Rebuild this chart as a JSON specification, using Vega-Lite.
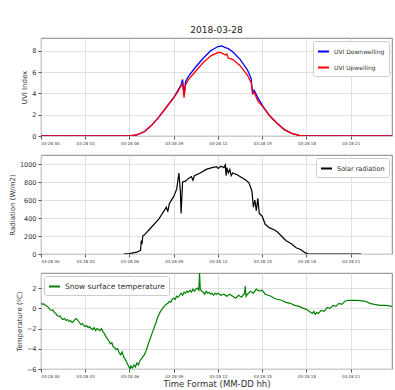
{
  "$schema": "https://vega.github.io/schema/vega-lite/v6.json",
  "padding": {"left": 8, "top": 25, "right": 0, "bottom": 0},
  "spacing": 8,
  "resolve": {"scale": {"color": "independent", "x": "independent", "y": "independent"}, "legend": {"color": "independent"}},
  "config": {
    "font": "DejaVu Sans",
    "view": {"stroke": "#666", "strokeWidth": 0.8},
    "axis": {"gridColor": "#d9d9d9", "gridWidth": 0.8, "domain": false, "tickColor": "#555", "tickSize": 3, "labelFontSize": 6.5, "labelColor": "#333", "titleFontSize": 7, "titleFontWeight": "normal", "titleColor": "#333", "labelPadding": 2, "titlePadding": 4},
    "axisX": {"labelFontSize": 4, "labelPadding": 2, "titleFontSize": 8.5},
    "legend": {"title": null, "symbolType": "stroke", "symbolStrokeWidth": 2, "symbolSize": 120, "labelFontSize": 6.5, "labelColor": "#333", "strokeColor": "#ccc", "fillColor": "white", "padding": 4, "offset": 3, "rowPadding": 5, "cornerRadius": 2}
  },
  "datasets": {
    "uvi": [
      {"h": 0, "v": 0, "s": "UVI Downwelling"}, {"h": 6.0, "v": 0, "s": "UVI Downwelling"}, {"h": 6.5, "v": 0.1, "s": "UVI Downwelling"}, {"h": 7.0, "v": 0.4, "s": "UVI Downwelling"}, {"h": 7.5, "v": 1.0, "s": "UVI Downwelling"}, {"h": 8.0, "v": 1.8, "s": "UVI Downwelling"}, {"h": 8.5, "v": 2.7, "s": "UVI Downwelling"}, {"h": 9.0, "v": 3.6, "s": "UVI Downwelling"}, {"h": 9.25, "v": 4.2, "s": "UVI Downwelling"}, {"h": 9.5, "v": 4.8, "s": "UVI Downwelling"}, {"h": 9.6, "v": 5.3, "s": "UVI Downwelling"}, {"h": 9.7, "v": 3.8, "s": "UVI Downwelling"}, {"h": 9.8, "v": 5.1, "s": "UVI Downwelling"}, {"h": 10.0, "v": 5.6, "s": "UVI Downwelling"}, {"h": 10.5, "v": 6.5, "s": "UVI Downwelling"}, {"h": 11.0, "v": 7.3, "s": "UVI Downwelling"}, {"h": 11.5, "v": 8.0, "s": "UVI Downwelling"}, {"h": 12.0, "v": 8.4, "s": "UVI Downwelling"}, {"h": 12.25, "v": 8.45, "s": "UVI Downwelling"}, {"h": 12.5, "v": 8.3, "s": "UVI Downwelling"}, {"h": 12.7, "v": 8.2, "s": "UVI Downwelling"}, {"h": 13.0, "v": 7.9, "s": "UVI Downwelling"}, {"h": 13.5, "v": 7.2, "s": "UVI Downwelling"}, {"h": 14.0, "v": 6.2, "s": "UVI Downwelling"}, {"h": 14.25, "v": 5.4, "s": "UVI Downwelling"}, {"h": 14.35, "v": 3.9, "s": "UVI Downwelling"}, {"h": 14.45, "v": 4.3, "s": "UVI Downwelling"}, {"h": 14.7, "v": 3.6, "s": "UVI Downwelling"}, {"h": 15.0, "v": 2.9, "s": "UVI Downwelling"}, {"h": 15.5, "v": 1.9, "s": "UVI Downwelling"}, {"h": 16.0, "v": 1.2, "s": "UVI Downwelling"}, {"h": 16.5, "v": 0.6, "s": "UVI Downwelling"}, {"h": 17.0, "v": 0.25, "s": "UVI Downwelling"}, {"h": 17.5, "v": 0.05, "s": "UVI Downwelling"}, {"h": 18.0, "v": 0, "s": "UVI Downwelling"}, {"h": 23.8, "v": 0, "s": "UVI Downwelling"},
      {"h": 0, "v": 0, "s": "UVI Upwelling"}, {"h": 6.0, "v": 0, "s": "UVI Upwelling"}, {"h": 6.5, "v": 0.1, "s": "UVI Upwelling"}, {"h": 7.0, "v": 0.4, "s": "UVI Upwelling"}, {"h": 7.5, "v": 1.0, "s": "UVI Upwelling"}, {"h": 8.0, "v": 1.8, "s": "UVI Upwelling"}, {"h": 8.5, "v": 2.7, "s": "UVI Upwelling"}, {"h": 9.0, "v": 3.6, "s": "UVI Upwelling"}, {"h": 9.25, "v": 4.1, "s": "UVI Upwelling"}, {"h": 9.5, "v": 4.7, "s": "UVI Upwelling"}, {"h": 9.6, "v": 4.9, "s": "UVI Upwelling"}, {"h": 9.7, "v": 3.6, "s": "UVI Upwelling"}, {"h": 9.8, "v": 4.8, "s": "UVI Upwelling"}, {"h": 10.0, "v": 5.3, "s": "UVI Upwelling"}, {"h": 10.5, "v": 6.1, "s": "UVI Upwelling"}, {"h": 11.0, "v": 6.9, "s": "UVI Upwelling"}, {"h": 11.5, "v": 7.5, "s": "UVI Upwelling"}, {"h": 12.0, "v": 7.85, "s": "UVI Upwelling"}, {"h": 12.25, "v": 7.8, "s": "UVI Upwelling"}, {"h": 12.5, "v": 7.6, "s": "UVI Upwelling"}, {"h": 12.6, "v": 7.7, "s": "UVI Upwelling"}, {"h": 12.7, "v": 7.3, "s": "UVI Upwelling"}, {"h": 13.0, "v": 7.2, "s": "UVI Upwelling"}, {"h": 13.5, "v": 6.6, "s": "UVI Upwelling"}, {"h": 14.0, "v": 5.7, "s": "UVI Upwelling"}, {"h": 14.25, "v": 5.0, "s": "UVI Upwelling"}, {"h": 14.35, "v": 4.0, "s": "UVI Upwelling"}, {"h": 14.45, "v": 4.1, "s": "UVI Upwelling"}, {"h": 14.7, "v": 3.3, "s": "UVI Upwelling"}, {"h": 15.0, "v": 2.8, "s": "UVI Upwelling"}, {"h": 15.5, "v": 1.9, "s": "UVI Upwelling"}, {"h": 16.0, "v": 1.2, "s": "UVI Upwelling"}, {"h": 16.5, "v": 0.6, "s": "UVI Upwelling"}, {"h": 17.0, "v": 0.25, "s": "UVI Upwelling"}, {"h": 17.5, "v": 0.05, "s": "UVI Upwelling"}, {"h": 18.0, "v": 0, "s": "UVI Upwelling"}, {"h": 23.8, "v": 0, "s": "UVI Upwelling"}
    ],
    "rad": [
      {"h": 5.6, "v": 0}, {"h": 6.0, "v": 5}, {"h": 6.5, "v": 20}, {"h": 6.75, "v": 40}, {"h": 6.8, "v": 150}, {"h": 6.85, "v": 110}, {"h": 6.9, "v": 200}, {"h": 7.0, "v": 210}, {"h": 7.5, "v": 300}, {"h": 8.0, "v": 390}, {"h": 8.5, "v": 520}, {"h": 8.6, "v": 470}, {"h": 8.7, "v": 560}, {"h": 9.0, "v": 640}, {"h": 9.2, "v": 720}, {"h": 9.35, "v": 900}, {"h": 9.45, "v": 700}, {"h": 9.5, "v": 450}, {"h": 9.6, "v": 800}, {"h": 9.8, "v": 810}, {"h": 10.0, "v": 840}, {"h": 10.2, "v": 860}, {"h": 10.3, "v": 820}, {"h": 10.4, "v": 870}, {"h": 10.8, "v": 900}, {"h": 11.2, "v": 940}, {"h": 11.6, "v": 960}, {"h": 11.9, "v": 970}, {"h": 12.0, "v": 950}, {"h": 12.2, "v": 975}, {"h": 12.4, "v": 960}, {"h": 12.5, "v": 990}, {"h": 12.55, "v": 870}, {"h": 12.6, "v": 960}, {"h": 12.7, "v": 900}, {"h": 12.8, "v": 940}, {"h": 12.9, "v": 870}, {"h": 13.0, "v": 900}, {"h": 13.3, "v": 880}, {"h": 13.6, "v": 850}, {"h": 13.9, "v": 820}, {"h": 14.1, "v": 790}, {"h": 14.3, "v": 700}, {"h": 14.4, "v": 520}, {"h": 14.5, "v": 600}, {"h": 14.6, "v": 480}, {"h": 14.7, "v": 620}, {"h": 14.8, "v": 450}, {"h": 15.0, "v": 420}, {"h": 15.2, "v": 330}, {"h": 15.5, "v": 290}, {"h": 15.8, "v": 270}, {"h": 16.0, "v": 250}, {"h": 16.3, "v": 200}, {"h": 16.6, "v": 150}, {"h": 17.0, "v": 110}, {"h": 17.3, "v": 70}, {"h": 17.6, "v": 50}, {"h": 17.9, "v": 15}, {"h": 18.1, "v": 3}, {"h": 18.5, "v": 0}, {"h": 21.7, "v": 0}
    ],
    "temp": [
      {"h": 0.0, "v": 0.5}, {"h": 0.1, "v": 0.4}, {"h": 0.2, "v": 0.45}, {"h": 0.3, "v": 0.3}, {"h": 0.4, "v": 0.2}, {"h": 0.5, "v": 0.1}, {"h": 0.6, "v": -0.1}, {"h": 0.7, "v": -0.2}, {"h": 0.8, "v": -0.15}, {"h": 0.9, "v": -0.4}, {"h": 1.0, "v": -0.5}, {"h": 1.1, "v": -0.7}, {"h": 1.2, "v": -0.8}, {"h": 1.3, "v": -0.75}, {"h": 1.4, "v": -1.0}, {"h": 1.5, "v": -1.1}, {"h": 1.6, "v": -1.0}, {"h": 1.7, "v": -1.2}, {"h": 1.8, "v": -1.1}, {"h": 1.9, "v": -1.3}, {"h": 2.0, "v": -1.2}, {"h": 2.1, "v": -1.4}, {"h": 2.2, "v": -1.3}, {"h": 2.3, "v": -1.1}, {"h": 2.4, "v": -1.0}, {"h": 2.5, "v": -1.2}, {"h": 2.6, "v": -1.4}, {"h": 2.7, "v": -1.6}, {"h": 2.8, "v": -1.5}, {"h": 2.9, "v": -1.7}, {"h": 3.0, "v": -1.8}, {"h": 3.1, "v": -1.7}, {"h": 3.2, "v": -1.9}, {"h": 3.3, "v": -1.8}, {"h": 3.4, "v": -2.0}, {"h": 3.5, "v": -2.1}, {"h": 3.6, "v": -1.9}, {"h": 3.7, "v": -2.2}, {"h": 3.8, "v": -2.0}, {"h": 3.9, "v": -2.1}, {"h": 4.0, "v": -2.2}, {"h": 4.1, "v": -2.0}, {"h": 4.2, "v": -2.3}, {"h": 4.3, "v": -2.5}, {"h": 4.4, "v": -2.8}, {"h": 4.5, "v": -3.0}, {"h": 4.6, "v": -3.2}, {"h": 4.7, "v": -3.5}, {"h": 4.8, "v": -3.4}, {"h": 4.9, "v": -3.8}, {"h": 5.0, "v": -3.9}, {"h": 5.1, "v": -4.1}, {"h": 5.2, "v": -4.0}, {"h": 5.3, "v": -4.4}, {"h": 5.4, "v": -4.6}, {"h": 5.5, "v": -4.3}, {"h": 5.6, "v": -4.8}, {"h": 5.7, "v": -5.0}, {"h": 5.8, "v": -5.3}, {"h": 5.9, "v": -5.6}, {"h": 6.0, "v": -5.9}, {"h": 6.05, "v": -6.0}, {"h": 6.1, "v": -5.7}, {"h": 6.2, "v": -5.9}, {"h": 6.3, "v": -5.6}, {"h": 6.4, "v": -5.8}, {"h": 6.5, "v": -5.4}, {"h": 6.6, "v": -5.6}, {"h": 6.7, "v": -5.2}, {"h": 6.8, "v": -5.0}, {"h": 6.9, "v": -4.8}, {"h": 7.0, "v": -4.6}, {"h": 7.1, "v": -4.3}, {"h": 7.2, "v": -3.9}, {"h": 7.3, "v": -3.4}, {"h": 7.4, "v": -3.0}, {"h": 7.5, "v": -2.6}, {"h": 7.6, "v": -2.2}, {"h": 7.7, "v": -1.8}, {"h": 7.8, "v": -1.4}, {"h": 7.9, "v": -0.9}, {"h": 8.0, "v": -0.6}, {"h": 8.1, "v": -0.3}, {"h": 8.2, "v": -0.1}, {"h": 8.3, "v": 0.1}, {"h": 8.4, "v": 0.3}, {"h": 8.5, "v": 0.4}, {"h": 8.6, "v": 0.5}, {"h": 8.7, "v": 0.7}, {"h": 8.8, "v": 0.6}, {"h": 8.9, "v": 0.9}, {"h": 9.0, "v": 1.0}, {"h": 9.1, "v": 0.9}, {"h": 9.2, "v": 1.2}, {"h": 9.3, "v": 1.1}, {"h": 9.4, "v": 1.3}, {"h": 9.5, "v": 1.5}, {"h": 9.6, "v": 1.3}, {"h": 9.7, "v": 1.6}, {"h": 9.8, "v": 1.5}, {"h": 9.9, "v": 1.7}, {"h": 10.0, "v": 1.6}, {"h": 10.1, "v": 1.8}, {"h": 10.2, "v": 1.6}, {"h": 10.3, "v": 1.9}, {"h": 10.4, "v": 1.7}, {"h": 10.5, "v": 1.9}, {"h": 10.6, "v": 2.0}, {"h": 10.7, "v": 1.8}, {"h": 10.75, "v": 3.5}, {"h": 10.8, "v": 1.9}, {"h": 10.9, "v": 1.7}, {"h": 11.0, "v": 1.6}, {"h": 11.1, "v": 1.4}, {"h": 11.2, "v": 1.7}, {"h": 11.3, "v": 1.5}, {"h": 11.4, "v": 1.6}, {"h": 11.5, "v": 1.4}, {"h": 11.6, "v": 1.5}, {"h": 11.7, "v": 1.3}, {"h": 11.8, "v": 1.5}, {"h": 11.9, "v": 1.4}, {"h": 12.0, "v": 1.5}, {"h": 12.2, "v": 1.3}, {"h": 12.4, "v": 1.4}, {"h": 12.6, "v": 1.2}, {"h": 12.8, "v": 1.4}, {"h": 13.0, "v": 1.2}, {"h": 13.2, "v": 1.0}, {"h": 13.4, "v": 1.3}, {"h": 13.6, "v": 1.1}, {"h": 13.8, "v": 1.5}, {"h": 13.85, "v": 2.2}, {"h": 13.9, "v": 1.2}, {"h": 14.0, "v": 1.4}, {"h": 14.2, "v": 1.7}, {"h": 14.4, "v": 1.5}, {"h": 14.6, "v": 1.9}, {"h": 14.8, "v": 1.7}, {"h": 15.0, "v": 1.8}, {"h": 15.2, "v": 1.4}, {"h": 15.4, "v": 1.3}, {"h": 15.6, "v": 1.2}, {"h": 15.8, "v": 1.0}, {"h": 16.0, "v": 0.9}, {"h": 16.3, "v": 0.8}, {"h": 16.6, "v": 0.6}, {"h": 16.9, "v": 0.5}, {"h": 17.2, "v": 0.3}, {"h": 17.5, "v": 0.2}, {"h": 17.8, "v": 0.0}, {"h": 18.0, "v": -0.1}, {"h": 18.2, "v": -0.3}, {"h": 18.4, "v": -0.5}, {"h": 18.5, "v": -0.3}, {"h": 18.6, "v": -0.6}, {"h": 18.7, "v": -0.4}, {"h": 18.8, "v": -0.5}, {"h": 19.0, "v": -0.2}, {"h": 19.2, "v": -0.3}, {"h": 19.4, "v": 0.1}, {"h": 19.6, "v": 0.0}, {"h": 19.8, "v": 0.3}, {"h": 20.0, "v": 0.2}, {"h": 20.2, "v": 0.5}, {"h": 20.4, "v": 0.4}, {"h": 20.6, "v": 0.7}, {"h": 20.8, "v": 0.8}, {"h": 21.0, "v": 0.8}, {"h": 21.5, "v": 0.8}, {"h": 22.0, "v": 0.7}, {"h": 22.3, "v": 0.5}, {"h": 22.6, "v": 0.4}, {"h": 23.0, "v": 0.3}, {"h": 23.4, "v": 0.3}, {"h": 23.8, "v": 0.2}
    ]
  },
  "vconcat": [
    {
      "width": 351, "height": 98,
      "title": {"text": "2018-03-28", "fontSize": 9, "fontWeight": "normal", "color": "#222", "offset": 3},
      "data": {"name": "uvi"},
      "mark": {"type": "line", "strokeWidth": 1.3, "clip": true},
      "encoding": {
        "x": {"field": "h", "type": "quantitative", "scale": {"domain": [0, 23.8], "nice": false, "zero": false}, "axis": {"title": null, "values": [0, 3, 6, 9, 12, 15, 18, 21], "labelExpr": "'03-28 ' + (datum.value < 10 ? '0' : '') + datum.value"}},
        "y": {"field": "v", "type": "quantitative", "scale": {"domain": [0, 9.2], "nice": false}, "axis": {"title": "UVI Index", "values": [0, 2, 4, 6, 8]}},
        "color": {"field": "s", "type": "nominal", "scale": {"domain": ["UVI Downwelling", "UVI Upwelling"], "range": ["#0000ff", "#ff0000"]}, "legend": {"orient": "top-right", "labelFontSize": 6}}
      }
    },
    {
      "width": 351, "height": 99,
      "data": {"name": "rad"},
      "mark": {"type": "line", "strokeWidth": 1.2, "clip": true},
      "encoding": {
        "x": {"field": "h", "type": "quantitative", "scale": {"domain": [0, 23.8], "nice": false, "zero": false}, "axis": {"title": null, "values": [0, 3, 6, 9, 12, 15, 18, 21], "labelExpr": "'03-28 ' + (datum.value < 10 ? '0' : '') + datum.value"}},
        "y": {"field": "v", "type": "quantitative", "scale": {"domain": [0, 1100], "nice": false}, "axis": {"title": "Radiation (W/m2)", "format": "d", "values": [0, 200, 400, 600, 800, 1000]}},
        "color": {"datum": "Solar radiation", "type": "nominal", "scale": {"range": ["#000000"]}, "legend": {"orient": "top-right"}}
      }
    },
    {
      "width": 351, "height": 96,
      "data": {"name": "temp"},
      "mark": {"type": "line", "strokeWidth": 1.2, "clip": true},
      "encoding": {
        "x": {"field": "h", "type": "quantitative", "scale": {"domain": [0, 23.8], "nice": false, "zero": false}, "axis": {"title": "Time Format (MM-DD hh)", "titlePadding": 1, "values": [0, 3, 6, 9, 12, 15, 18, 21], "labelExpr": "'03-28 ' + (datum.value < 10 ? '0' : '') + datum.value"}},
        "y": {"field": "v", "type": "quantitative", "scale": {"domain": [-6, 3.5], "nice": false, "zero": false}, "axis": {"title": "Temperature (ºC)", "values": [-6, -4, -2, 0, 2]}},
        "color": {"datum": "Snow surface temperature", "type": "nominal", "scale": {"range": ["#008000"]}, "legend": {"orient": "top-left", "labelFontSize": 7.5}}
      }
    }
  ]
}
